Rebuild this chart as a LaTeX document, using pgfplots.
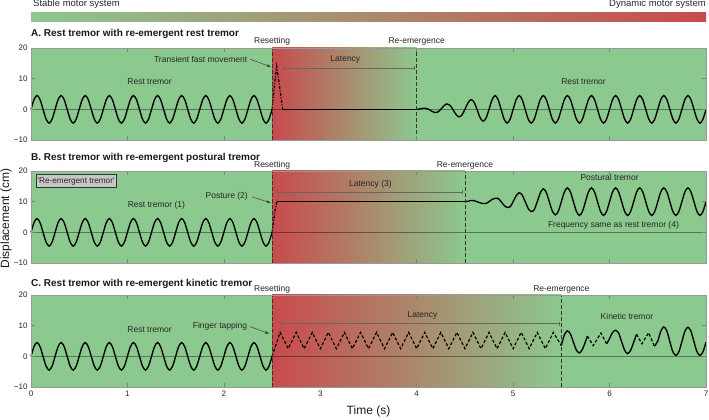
\documentclass[border=0pt]{standalone}
\usepackage{fontspec}
\setmainfont{Liberation Sans}
\usepackage{pgfplots}
\usepackage{pgfplotstable}
\pgfplotsset{compat=1.18}
\usetikzlibrary{arrows.meta}
\definecolor{mygreen}{RGB}{140,201,142}
\definecolor{myred}{RGB}{201,74,76}

\pgfplotstableread{
t y
0 0
0.03125 3.18
0.0625 4.5
0.09375 3.18
0.125 0
0.15625 -3.18
0.1875 -4.5
0.21875 -3.18
0.25 0
0.28125 3.18
0.3125 4.5
0.34375 3.18
0.375 0
0.40625 -3.18
0.4375 -4.5
0.46875 -3.18
0.5 0
0.53125 3.18
0.5625 4.5
0.59375 3.18
0.625 0
0.65625 -3.18
0.6875 -4.5
0.71875 -3.18
0.75 0
0.78125 3.18
0.8125 4.5
0.84375 3.18
0.875 0
0.90625 -3.18
0.9375 -4.5
0.96875 -3.18
1 0
1.03125 3.18
1.0625 4.5
1.09375 3.18
1.125 0
1.15625 -3.18
1.1875 -4.5
1.21875 -3.18
1.25 0
1.28125 3.18
1.3125 4.5
1.34375 3.18
1.375 0
1.40625 -3.18
1.4375 -4.5
1.46875 -3.18
1.5 0
1.53125 3.18
1.5625 4.5
1.59375 3.18
1.625 0
1.65625 -3.18
1.6875 -4.5
1.71875 -3.18
1.75 0
1.78125 3.18
1.8125 4.5
1.84375 3.18
1.875 0
1.90625 -3.18
1.9375 -4.5
1.96875 -3.18
2 0
2.03125 3.18
2.0625 4.5
2.09375 3.18
2.125 0
2.15625 -3.18
2.1875 -4.5
2.21875 -3.18
2.25 0
2.28125 3.18
2.3125 4.5
2.34375 3.18
2.375 0
2.40625 -3.18
2.4375 -4.5
2.46875 -3.18
2.5 0
}\resttremor

\pgfplotstableread{
t y
4 0
4.03125 0.12
4.0625 0.35
4.09375 0.37
4.125 0
4.15625 -0.62
4.1875 -1.05
4.21875 -0.87
4.25 0
4.28125 1.12
4.3125 1.76
4.34375 1.37
4.375 0
4.40625 -1.62
4.4375 -2.46
4.46875 -1.86
4.5 0
4.53125 2.11
4.5625 3.16
4.59375 2.36
4.625 0
4.65625 -2.61
4.6875 -3.87
4.71875 -2.86
4.75 0
4.78125 3.11
4.8125 4.5
4.84375 3.18
4.875 0
4.90625 -3.18
4.9375 -4.5
4.96875 -3.18
5 0
5.03125 3.18
5.0625 4.5
5.09375 3.18
5.125 0
5.15625 -3.18
5.1875 -4.5
5.21875 -3.18
5.25 0
5.28125 3.18
5.3125 4.5
5.34375 3.18
5.375 0
5.40625 -3.18
5.4375 -4.5
5.46875 -3.18
5.5 0
5.53125 3.18
5.5625 4.5
5.59375 3.18
5.625 0
5.65625 -3.18
5.6875 -4.5
5.71875 -3.18
5.75 0
5.78125 3.18
5.8125 4.5
5.84375 3.18
5.875 0
5.90625 -3.18
5.9375 -4.5
5.96875 -3.18
6 0
6.03125 3.18
6.0625 4.5
6.09375 3.18
6.125 0
6.15625 -3.18
6.1875 -4.5
6.21875 -3.18
6.25 0
6.28125 3.18
6.3125 4.5
6.34375 3.18
6.375 0
6.40625 -3.18
6.4375 -4.5
6.46875 -3.18
6.5 0
6.53125 3.18
6.5625 4.5
6.59375 3.18
6.625 0
6.65625 -3.18
6.6875 -4.5
6.71875 -3.18
6.75 0
6.78125 3.18
6.8125 4.5
6.84375 3.18
6.875 0
6.90625 -3.18
6.9375 -4.5
6.96875 -3.18
7 0
}\postA

\pgfplotstableread{
t y
4.5 10
4.53125 10.14
4.5625 10.4
4.59375 10.32
4.625 10
4.65625 9.61
4.6875 9.4
4.71875 9.4
4.75 10
4.78125 10.71
4.8125 11.1
4.84375 11.06
4.875 10
4.90625 8.8
4.9375 8.1
4.96875 8.3
5 10
5.03125 11.91
5.0625 12.9
5.09375 12.16
5.125 10
5.15625 7.77
5.1875 6.8
5.21875 7.38
5.25 10
5.28125 12.83
5.3125 14.2
5.34375 13.0
5.375 10
5.40625 6.96
5.4375 5.7
5.46875 6.89
5.5 10
5.53125 13.18
5.5625 14.5
5.59375 13.18
5.625 10
5.65625 6.82
5.6875 5.5
5.71875 6.82
5.75 10
5.78125 13.18
5.8125 14.5
5.84375 13.18
5.875 10
5.90625 6.82
5.9375 5.5
5.96875 6.82
6 10
6.03125 13.18
6.0625 14.5
6.09375 13.18
6.125 10
6.15625 6.82
6.1875 5.5
6.21875 6.82
6.25 10
6.28125 13.18
6.3125 14.5
6.34375 13.18
6.375 10
6.40625 6.82
6.4375 5.5
6.46875 6.82
6.5 10
6.53125 13.18
6.5625 14.5
6.59375 13.18
6.625 10
6.65625 6.82
6.6875 5.5
6.71875 6.82
6.75 10
6.78125 13.18
6.8125 14.5
6.84375 13.18
6.875 10
6.90625 6.82
6.9375 5.5
6.96875 6.82
7 10
}\postB

\pgfplotstableread{
t y
2.5 0
2.5833 7.8
2.6667 2.5
2.75 7.8
2.8333 2.5
2.9167 7.8
3.0 2.5
3.0833 7.8
3.1667 2.5
3.25 7.8
3.3333 2.5
3.4167 7.8
3.5 2.5
3.5833 7.8
3.6667 2.5
3.75 7.8
3.8333 2.5
3.9167 7.8
4.0 2.5
4.0833 7.8
4.1667 2.5
4.25 7.8
4.3333 2.5
4.4167 7.8
4.5 2.5
4.5833 7.8
4.6667 2.5
4.75 7.8
4.8333 2.5
4.9167 7.8
5.0 2.5
5.0833 7.8
5.1667 2.5
5.25 7.8
5.3333 2.5
5.4167 7.8
5.5 3.5
}\tapping

\pgfplotsset{
  panel/.style={width=675pt,height=92pt,scale only axis,anchor=south west,
    xmin=0,xmax=7,ymin=-10,ymax=20,
    xtick={0,1,2,3,4,5,6,7},ytick={-10,0,10,20},yticklabels={−10,0,10,20},
    tick align=inside,major tick length=4pt,
    axis line style={black!40,line width=0.6pt},
    tick style={black!50,line width=0.6pt},
    tick label style={font=\fontsize{8}{9}\selectfont,text=black!85},
    axis on top,clip=false},
  sig/.style={black,line width=1.35pt,no markers},
  zl/.style={black,draw opacity=0.4,line width=0.5pt,no markers},
}
\tikzset{
  ann/.style={font=\fontsize{8.5}{10}\selectfont,text=black!85},
  ttl/.style={font=\bfseries\fontsize{10}{12}\selectfont,text=black!90,anchor=base west},
  vdash/.style={black!80,line width=0.8pt,dash pattern=on 3.5pt off 2.5pt},
  brk/.style={black!60,line width=0.6pt,{Bar[width=4pt]}-{Bar[width=4pt]}},
  arr/.style={black!75,line width=0.5pt,-{Stealth[length=4.5pt,width=3pt]}},
}

\begin{document}
\begin{tikzpicture}
\useasboundingbox (0pt,0pt) rectangle (709pt,420pt);
% colour bar
\shade[left color=mygreen,right color=myred] (31pt,398pt) rectangle (706pt,407pt);
\node[font=\fontsize{9.5}{11}\selectfont,text=black!85,anchor=base west,inner sep=0pt] at (33pt,413pt) {Stable motor system};
\node[font=\fontsize{9.5}{11}\selectfont,text=black!85,anchor=base east,inner sep=0pt] at (706pt,413pt) {Dynamic motor system};

% ---------------- Panel A
\begin{axis}[panel,at={(31pt,280pt)},xticklabels={}]
\fill[mygreen] (axis cs:0,-10) rectangle (axis cs:7,20);
\shade[left color=myred,right color=mygreen] (axis cs:2.5,-10) rectangle (axis cs:4,20);
\addplot[zl] coordinates {(0,0) (7,0)};
\addplot[sig,smooth] table {\resttremor};
\addplot[sig,line width=1.2pt,dash pattern=on 3pt off 1.5pt on 1pt off 1.5pt] coordinates {(2.5,0) (2.525,8) (2.548,14) (2.575,8) (2.61,0)};
\addplot[sig] coordinates {(2.61,0) (4,0)};
\addplot[sig,smooth] table {\postA};
\draw[vdash] (axis cs:2.5,-10) -- (axis cs:2.5,20);
\draw[vdash] (axis cs:4,-10) -- (axis cs:4,20);
\node[ttl,inner sep=0pt] at (rel axis cs:0,1) [yshift=11pt] {A. Rest tremor with re-emergent rest tremor};
\node[ann,anchor=base,inner sep=0pt] at (axis cs:2.5,20) [yshift=4pt] {Resetting};
\node[ann,anchor=base,inner sep=0pt] at (axis cs:4,20) [yshift=4pt] {Re-emergence};
\node[ann] at (axis cs:1.23,9) {Rest tremor};
\node[ann] at (axis cs:5.73,9) {Rest tremor};
\node[ann] at (axis cs:1.76,16.4) {Transient fast movement};
\draw[arr] (axis cs:2.27,16.4) -- (axis cs:2.49,13.8);
\draw[brk] (axis cs:2.61,13.4) -- (axis cs:3.98,13.4);
\node[ann] at (axis cs:3.26,16.1) {Latency};
\end{axis}

% ---------------- Panel B
\begin{axis}[panel,at={(31pt,157pt)},xticklabels={}]
\fill[mygreen] (axis cs:0,-10) rectangle (axis cs:7,20);
\shade[left color=myred,right color=mygreen] (axis cs:2.5,-10) rectangle (axis cs:4.5,20);
\addplot[zl] coordinates {(0,0) (7,0)};
\addplot[sig,smooth] table {\resttremor};
\addplot[sig,line width=1.2pt,dash pattern=on 3pt off 1.5pt on 1pt off 1.5pt] coordinates {(2.5,0) (2.53,7) (2.55,10)};
\addplot[sig] coordinates {(2.55,10) (4.5,10)};
\addplot[sig,smooth] table {\postB};
\draw[vdash] (axis cs:2.5,-10) -- (axis cs:2.5,20);
\draw[vdash] (axis cs:4.5,-10) -- (axis cs:4.5,20);
\node[ttl,inner sep=0pt] at (rel axis cs:0,1) [yshift=10pt] {B. Rest tremor with re-emergent postural tremor};
\node[ann,anchor=base,inner sep=0pt] at (axis cs:2.5,20) [yshift=3pt] {Resetting};
\node[ann,anchor=base,inner sep=0pt] at (axis cs:4.5,20) [yshift=3pt] {Re-emergence};
\node[ann,font=\fontsize{8.2}{10}\selectfont,anchor=north west,fill=black!22,draw=black!80,line width=0.6pt,inner xsep=1.5pt,inner ysep=3pt] at (axis cs:0.05,19.0) {\textquotesingle Re-emergent tremor\textquotesingle};
\node[ann] at (axis cs:1.30,8.9) {Rest tremor (1)};
\node[ann] at (axis cs:2.03,11.6) {Posture (2)};
\draw[arr] (axis cs:2.29,11.6) -- (axis cs:2.487,9.6);
\draw[brk] (axis cs:2.55,13.1) -- (axis cs:4.48,13.1);
\node[ann] at (axis cs:3.52,15.7) {Latency (3)};
\node[ann] at (axis cs:6.0,17.8) {Postural tremor};
\node[ann] at (axis cs:6.04,2.2) {Frequency same as rest tremor (4)};
\end{axis}

% ---------------- Panel C
\begin{axis}[panel,at={(31pt,33pt)},xticklabels={0,1,2,3,4,5,6,7}]
\fill[mygreen] (axis cs:0,-10) rectangle (axis cs:7,20);
\shade[left color=myred,right color=mygreen] (axis cs:2.5,-10) rectangle (axis cs:5.5,20);
\addplot[zl] coordinates {(0,0) (7,0)};
\addplot[sig,smooth] table {\resttremor};
\addplot[sig,line width=1.2pt,dash pattern=on 3pt off 2pt] table {\tapping};
\addplot[sig,smooth] coordinates {(5.5,3.5) (5.53125,7.0) (5.5625,8.3) (5.59375,7.3) (5.625,4.6) (5.65625,2.0) (5.6875,1.1) (5.71875,2.3) (5.75,4.8) (5.77,6.6)};
\addplot[sig,line width=1.2pt,dash pattern=on 3pt off 2pt] coordinates {(5.77,6.6) (5.83,3.5) (5.91,7.6) (5.97,4.1)};
\addplot[sig,smooth] coordinates {(5.97,4.1) (6.0,5.8) (6.03125,7.8) (6.0625,8.5) (6.09375,7.6) (6.125,4.8) (6.15625,2.0) (6.1875,0.9) (6.21875,2.0) (6.25,4.6) (6.28,7.2)};
\addplot[sig,line width=1.2pt,dash pattern=on 3pt off 2pt] coordinates {(6.28,7.2) (6.335,4.1) (6.405,7.7) (6.465,3.3)};
\addplot[sig,smooth] coordinates {(6.465,3.3) (6.5,5.0) (6.53125,8.2) (6.5625,9.6) (6.59375,8.3) (6.625,4.8) (6.65625,1.5) (6.6875,0.3) (6.71875,1.5) (6.75,4.8) (6.78125,8.2) (6.8125,9.5) (6.84375,8.2) (6.875,4.8) (6.90625,1.5) (6.9375,0.3) (6.96875,1.5) (7,4.6)};
\draw[vdash] (axis cs:2.5,-10) -- (axis cs:2.5,20);
\draw[vdash] (axis cs:5.5,-10) -- (axis cs:5.5,20);
\node[ttl,inner sep=0pt] at (rel axis cs:0,1) [yshift=8.5pt] {C. Rest tremor with re-emergent kinetic tremor};
\node[ann,anchor=base,inner sep=0pt] at (axis cs:2.5,20) [yshift=3.5pt] {Resetting};
\node[ann,anchor=base,inner sep=0pt] at (axis cs:5.5,20) [yshift=3.5pt] {Re-emergence};
\node[ann] at (axis cs:1.23,8.7) {Rest tremor};
\node[ann] at (axis cs:1.96,9.7) {Finger tapping};
\draw[arr] (axis cs:2.27,9.7) -- (axis cs:2.47,7.4);
\draw[brk] (axis cs:2.59,10.7) -- (axis cs:5.48,10.7);
\node[ann] at (axis cs:4.06,13.4) {Latency};
\node[ann] at (axis cs:6.18,12.9) {Kinetic tremor};
\end{axis}

% axis labels
\node[rotate=90,font=\fontsize{12}{14}\selectfont,text=black!90] at (6pt,201.5pt) {Displacement (cm)};
\node[font=\fontsize{12}{14}\selectfont,text=black!90] at (368.5pt,9pt) {Time (s)};
\end{tikzpicture}
\end{document}
